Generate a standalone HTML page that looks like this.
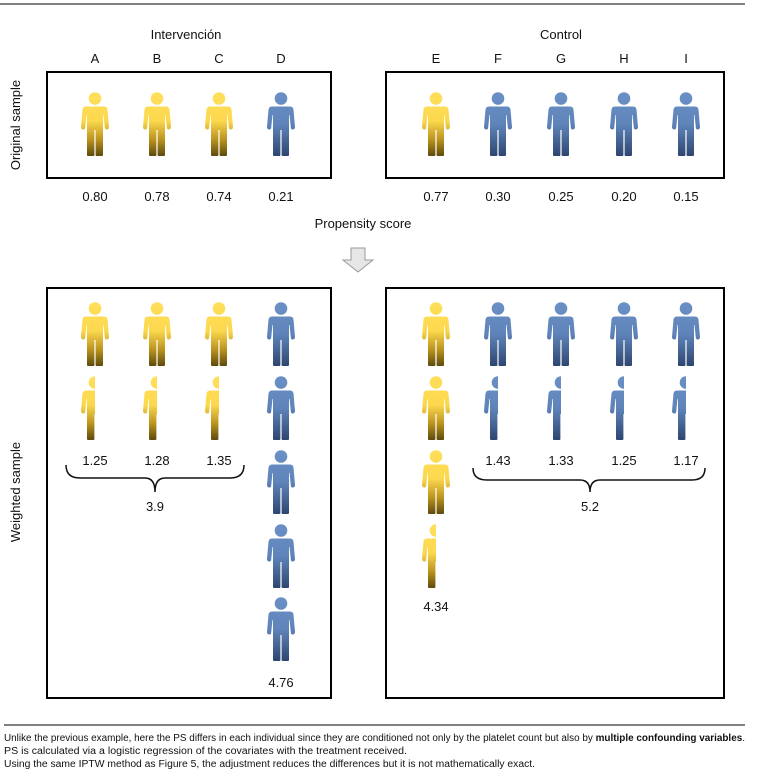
<!DOCTYPE html>
<html><head><meta charset="utf-8"><style>
body{margin:0;background:#fff}
svg{display:block}
text{font-family:"Liberation Sans",sans-serif;}
</style></head><body>
<svg width="758" height="782" viewBox="0 0 758 782" xmlns="http://www.w3.org/2000/svg">
<defs>
<linearGradient id="gy" gradientUnits="userSpaceOnUse" x1="0" y1="0" x2="0" y2="64">
<stop offset="0" stop-color="#ffdf5a"/><stop offset="0.45" stop-color="#fcd84e"/><stop offset="0.75" stop-color="#b8921e"/><stop offset="1" stop-color="#5e4a0c"/></linearGradient>
<linearGradient id="gb" gradientUnits="userSpaceOnUse" x1="0" y1="0" x2="0" y2="64">
<stop offset="0" stop-color="#6a90c6"/><stop offset="0.5" stop-color="#5f84ba"/><stop offset="1" stop-color="#2e4670"/></linearGradient>
<path id="shape" d="M5,14.5 H23 Q26,14.5 26.5,17.5 L28,35 Q28,37.5 25.5,37.5 Q24,37.5 23.8,35.5 L22.5,23 L22,23 L22,63 Q22,64 21,64 L15.5,64 Q14.6,64 14.6,63 L14.6,38 L13.4,38 L13.4,63 Q13.4,64 12.5,64 L7,64 Q6,64 6,63 L6,23 L5.5,23 L4.2,35.5 Q4,37.5 2.5,37.5 Q0,37.5 0,35 L1.5,17.5 Q2,14.5 5,14.5 Z"/>
<symbol id="py" viewBox="0 0 28 66" overflow="visible">
<circle cx="14" cy="6.5" r="6.3" fill="url(#gy)"/>
<use href="#shape" fill="url(#gy)"/>
</symbol>
<symbol id="pb" viewBox="0 0 28 66" overflow="visible">
<circle cx="14" cy="6.5" r="6.3" fill="url(#gb)"/>
<use href="#shape" fill="url(#gb)"/>
</symbol>
<clipPath id="half"><rect x="0" y="0" width="14" height="70"/></clipPath>
</defs>
<line x1="0" y1="4" x2="745" y2="4" stroke="#000" stroke-width="1"/>
<g font-size="13" text-anchor="middle" fill="#111">
<text x="186" y="39">Intervención</text>
<text x="561" y="39">Control</text>
<text x="95" y="63">A</text><text x="157" y="63">B</text><text x="219" y="63">C</text><text x="281" y="63">D</text>
<text x="436" y="63">E</text><text x="498" y="63">F</text><text x="561" y="63">G</text><text x="624" y="63">H</text><text x="686" y="63">I</text>
<text x="95" y="201">0.80</text><text x="157" y="201">0.78</text><text x="219" y="201">0.74</text><text x="281" y="201">0.21</text>
<text x="436" y="201">0.77</text><text x="498" y="201">0.30</text><text x="561" y="201">0.25</text><text x="624" y="201">0.20</text><text x="686" y="201">0.15</text>
<text x="363" y="228">Propensity score</text>
<text transform="translate(20,125) rotate(-90)">Original sample</text>
<text transform="translate(20,492) rotate(-90)">Weighted sample</text>
<text x="95" y="465">1.25</text><text x="157" y="465">1.28</text><text x="219" y="465">1.35</text>
<text x="155" y="511">3.9</text>
<text x="281" y="687">4.76</text>
<text x="436" y="611">4.34</text>
<text x="498" y="465">1.43</text><text x="561" y="465">1.33</text><text x="624" y="465">1.25</text><text x="686" y="465">1.17</text>
<text x="590" y="511">5.2</text>
</g>
<g fill="none" stroke="#000" stroke-width="2">
<rect x="47" y="72" width="284" height="106"/>
<rect x="386" y="72" width="338" height="106"/>
<rect x="47" y="288" width="284" height="410"/>
<rect x="386" y="288" width="338" height="410"/>
</g>
<path d="M351,248 H365 V260 H373 L358,272 L343,260 H351 Z" fill="#e6e6e6" stroke="#999" stroke-width="1"/>
<g fill="none" stroke="#111" stroke-width="1.5">
<path d="M66,465 Q66,478 80,478 H145 Q155,478 155,492 Q155,478 165,478 H230 Q244,478 244,465"/>
<path d="M473,468 Q473,480 487,480 H580 Q590,480 590,492 Q590,480 600,480 H692 Q705,480 705,468"/>
</g>
<g>
<use href="#py" x="81" y="92" width="28" height="66"/><use href="#py" x="143" y="92" width="28" height="66"/><use href="#py" x="205" y="92" width="28" height="66"/>
<use href="#py" x="422" y="92" width="28" height="66"/>
<use href="#py" x="81" y="302" width="28" height="66"/><use href="#py" x="143" y="302" width="28" height="66"/><use href="#py" x="205" y="302" width="28" height="66"/>
<g clip-path="url(#half)" transform="translate(81,376)"><use href="#py" width="28" height="66"/></g>
<g clip-path="url(#half)" transform="translate(143,376)"><use href="#py" width="28" height="66"/></g>
<g clip-path="url(#half)" transform="translate(205,376)"><use href="#py" width="28" height="66"/></g>
<use href="#py" x="422" y="302" width="28" height="66"/><use href="#py" x="422" y="376" width="28" height="66"/><use href="#py" x="422" y="450" width="28" height="66"/>
<g clip-path="url(#half)" transform="translate(422,524)"><use href="#py" width="28" height="66"/></g>
</g>
<g>
<use href="#pb" x="267" y="92" width="28" height="66"/>
<use href="#pb" x="484" y="92" width="28" height="66"/><use href="#pb" x="547" y="92" width="28" height="66"/><use href="#pb" x="610" y="92" width="28" height="66"/><use href="#pb" x="672" y="92" width="28" height="66"/>
<use href="#pb" x="267" y="302" width="28" height="66"/><use href="#pb" x="267" y="376" width="28" height="66"/><use href="#pb" x="267" y="450" width="28" height="66"/><use href="#pb" x="267" y="524" width="28" height="66"/><use href="#pb" x="267" y="597" width="28" height="66"/>
<use href="#pb" x="484" y="302" width="28" height="66"/><use href="#pb" x="547" y="302" width="28" height="66"/><use href="#pb" x="610" y="302" width="28" height="66"/><use href="#pb" x="672" y="302" width="28" height="66"/>
<g clip-path="url(#half)" transform="translate(484,376)"><use href="#pb" width="28" height="66"/></g>
<g clip-path="url(#half)" transform="translate(547,376)"><use href="#pb" width="28" height="66"/></g>
<g clip-path="url(#half)" transform="translate(610,376)"><use href="#pb" width="28" height="66"/></g>
<g clip-path="url(#half)" transform="translate(672,376)"><use href="#pb" width="28" height="66"/></g>
</g>
<line x1="4" y1="725" x2="745" y2="725" stroke="#000" stroke-width="1"/>
<g font-size="10" fill="#111">
<text x="4" y="741" textLength="741" lengthAdjust="spacingAndGlyphs">Unlike the previous example, here the PS differs in each individual since they are conditioned not only by the platelet count but also by <tspan font-weight="bold">multiple confounding variables</tspan>.</text>
<text x="4" y="754" textLength="403" lengthAdjust="spacingAndGlyphs">PS is calculated via a logistic regression of the covariates with the treatment received.</text>
<text x="4" y="767" textLength="531" lengthAdjust="spacingAndGlyphs">Using the same IPTW method as Figure 5, the adjustment reduces the differences but it is not mathematically exact.</text>
</g>
</svg>
</body></html>
